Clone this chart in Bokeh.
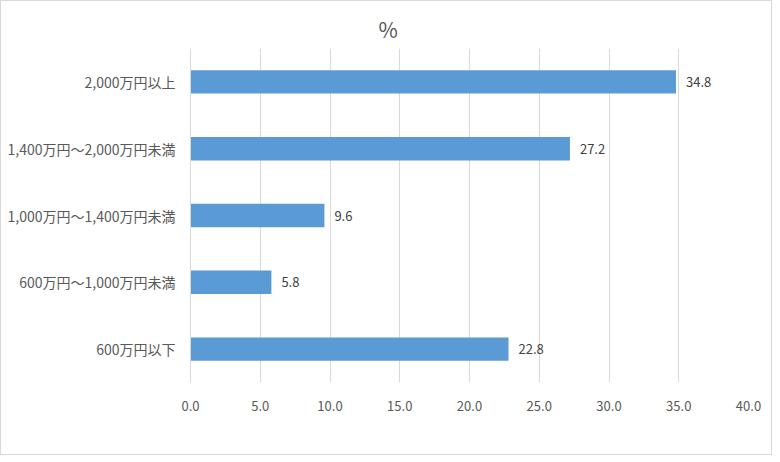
from bokeh.plotting import figure
from bokeh.models import ColumnDataSource, FactorRange, Range1d, FixedTicker, NumeralTickFormatter, Title, LabelSet
from bokeh.core.properties import value
from bokeh.embed import file_html
from bokeh.resources import INLINE

categories = ["2,000万円以上", "1,400万円～2,000万円未満", "1,000万円～1,400万円未満", "600万円～1,000万円未満", "600万円以下"]
values = [34.8, 27.2, 9.6, 5.8, 22.8]
x_ticks = [0, 5, 10, 15, 20, 25, 30, 35, 40]
title_text = "%"

FONT = "Noto Sans CJK JP"

src = ColumnDataSource(dict(cat=categories, val=values, lab=[f"{v:.1f}" for v in values]))

p = figure(width=772, height=455, output_backend="svg", toolbar_location=None,
           y_range=FactorRange(factors=list(reversed(categories))),
           x_range=Range1d(0, 40),
           min_border_left=189, min_border_right=25, min_border_top=47, min_border_bottom=74)
p.styles = {"border": "1px solid #d9d9d9"}

p.add_layout(Title(text=title_text, align="left", offset=188, text_font=FONT,
                   text_font_size="21px", text_color="#595959", text_font_style="normal"), "above")

p.hbar(y="cat", right="val", left=0, height=0.35, source=src, color="#5B9BD5", line_color=None)

labels = LabelSet(x="val", y="cat", text="lab", source=src, x_offset=10, y_offset=0,
                  text_baseline="middle", text_align="left", text_font=value(FONT),
                  text_font_size=value("13px"), text_color=value("#404040"))
p.add_layout(labels)

p.outline_line_color = None
p.background_fill_color = "white"
p.border_fill_color = "white"

p.xgrid.ticker = FixedTicker(ticks=x_ticks)
p.xgrid.grid_line_color = "#d9d9d9"
p.ygrid.grid_line_color = None

p.xaxis.ticker = FixedTicker(ticks=x_ticks)
p.xaxis.formatter = NumeralTickFormatter(format="0.0")
p.xaxis.axis_line_color = None
p.xaxis.major_tick_line_color = None
p.xaxis.minor_tick_line_color = None
p.xaxis.major_label_standoff = 12
p.xaxis.major_label_text_font = FONT
p.xaxis.major_label_text_font_size = "13px"
p.xaxis.major_label_text_color = "#595959"

p.yaxis.axis_line_color = "#d9d9d9"
p.yaxis.major_tick_line_color = None
p.yaxis.minor_tick_line_color = None
p.yaxis.major_label_standoff = 9
p.yaxis.major_label_text_font = FONT
p.yaxis.major_label_text_font_size = "14px"
p.yaxis.major_label_text_color = "#595959"

open("out.html", "w").write(file_html(p, INLINE))
